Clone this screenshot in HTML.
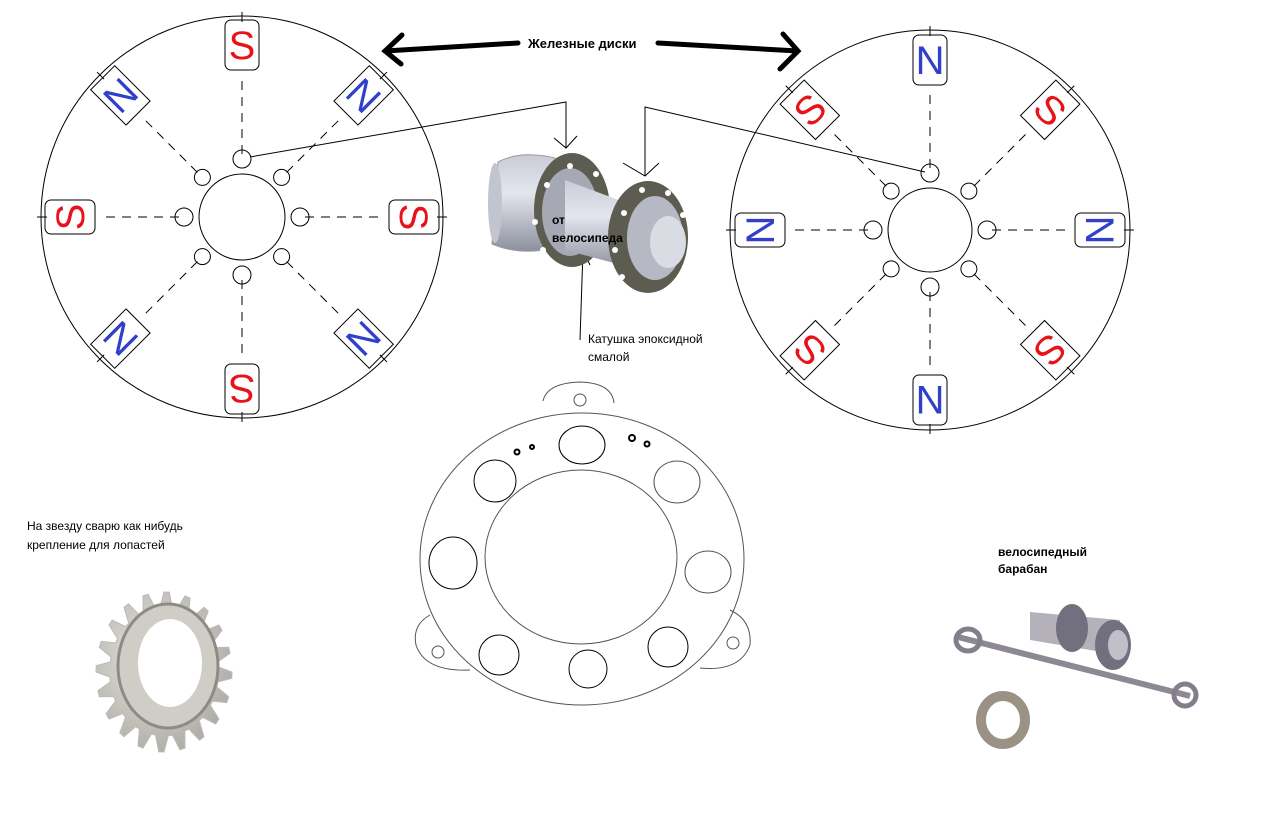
<!DOCTYPE html>
<html><head><meta charset="utf-8">
<style>
html,body{margin:0;padding:0;background:#fff;}
svg{display:block;}
text{font-family:"Liberation Sans","DejaVu Sans",sans-serif;}
</style></head>
<body>
<svg id="s" width="1274" height="817" viewBox="0 0 1274 817" xmlns="http://www.w3.org/2000/svg">
<defs>
<linearGradient id="cyl" x1="0" y1="0" x2="0" y2="1">
<stop offset="0" stop-color="#c9ccd6"/><stop offset="0.4" stop-color="#e4e6ee"/><stop offset="1" stop-color="#8c909c"/>
</linearGradient>
<radialGradient id="gear" cx="0.4" cy="0.4" r="0.7">
<stop offset="0" stop-color="#e6e4de"/><stop offset="1" stop-color="#a9a7a0"/>
</radialGradient>
</defs>
<g id="L" fill="none" stroke="#000" stroke-width="1"></g>
<g id="R" fill="none" stroke="#000" stroke-width="1"></g>

<g stroke="#000" stroke-width="5" fill="none" stroke-linecap="round">
<path d="M518 43 L385 51 M402 35 L385 51 L401 64"/>
<path d="M658 43 L798 51 M783 34 L798 51 L780 69"/>
</g>
<text x="528" y="48" font-size="13" font-weight="bold">Железные диски</text>

<g stroke="#000" stroke-width="1" fill="none">
<path d="M250 157 L566 102 L566 148 M554 138 L566 148 L577 136"/>
<path d="M925 172 L645 107 L645 176 M623 163 L645 176 L659 163"/>
<path d="M580 340 L583 250 M577 265 L583 250 L590 265"/>
</g>

<g>
<path d="M498 162 Q520 150 555 158 L555 248 Q520 256 492 244 Z" fill="url(#cyl)" stroke="#9a9ca6"/>
<ellipse cx="495" cy="203" rx="7" ry="40" fill="#c2c5cf"/>
<ellipse cx="572" cy="210" rx="38" ry="57" fill="#5c5c50"/>
<ellipse cx="570" cy="212" rx="28" ry="44" fill="#a6a9b4"/>
<path d="M565 180 L640 208 L640 270 L565 250 Z" fill="url(#cyl)"/>
<ellipse cx="648" cy="237" rx="40" ry="56" fill="#5c5c50"/>
<ellipse cx="655" cy="238" rx="28" ry="42" fill="#b6b9c4"/>
<ellipse cx="668" cy="242" rx="18" ry="26" fill="#dadce4"/>
<g fill="#fff">
<circle cx="570" cy="166" r="3"/><circle cx="596" cy="174" r="3"/><circle cx="547" cy="185" r="3"/><circle cx="535" cy="222" r="3"/><circle cx="543" cy="250" r="3"/>
<circle cx="642" cy="190" r="3"/><circle cx="668" cy="193" r="3"/><circle cx="624" cy="213" r="3"/><circle cx="615" cy="250" r="3"/><circle cx="622" cy="277" r="3"/><circle cx="683" cy="215" r="3"/>
</g>
<text x="552" y="224" font-size="12" font-weight="bold">от</text>
<text x="552" y="242" font-size="12" font-weight="bold">велосипеда</text>
</g>
<text x="588" y="343" font-size="12">Катушка эпоксидной</text>
<text x="588" y="361" font-size="12">смалой</text>

<g fill="none" stroke="#555" stroke-width="1">
<path d="M543 401 Q547 383 580 382 Q612 383 614 403"/>
<circle cx="580" cy="400" r="6"/>
<path d="M430 615 Q412 625 416 645 Q425 672 470 670"/>
<circle cx="438" cy="652" r="6"/>
<path d="M730 610 Q752 620 750 645 Q740 672 700 668"/>
<circle cx="733" cy="643" r="6"/>
<ellipse cx="582" cy="559" rx="162" ry="146"/>
<ellipse cx="581" cy="557" rx="96" ry="87"/>
<ellipse cx="677" cy="482" rx="23" ry="21"/>
<ellipse cx="708" cy="572" rx="23" ry="21"/>
</g>
<g fill="none" stroke="#000" stroke-width="1">
<ellipse cx="582" cy="445" rx="23" ry="19"/>
<circle cx="495" cy="481" r="21"/>
<ellipse cx="453" cy="563" rx="24" ry="26"/>
<circle cx="499" cy="655" r="20"/>
<circle cx="588" cy="669" r="19"/>
<circle cx="668" cy="647" r="20"/>
</g>
<g fill="none" stroke="#000" stroke-width="2">
<circle cx="517" cy="452" r="2.5"/><circle cx="532" cy="447" r="2"/><circle cx="632" cy="438" r="3"/><circle cx="647" cy="444" r="2.5"/>
</g>

<g id="G"></g>
<text x="27" y="530" font-size="12">На звезду сварю как нибудь</text>
<text x="27" y="549" font-size="12">крепление для лопастей</text>

<text x="998" y="556" font-size="12" font-weight="bold">велосипедный</text>
<text x="998" y="573" font-size="12" font-weight="bold">барабан</text>
<g opacity="0.85">
<path d="M958 637 L1190 696" stroke="#7a7480" stroke-width="6"/>
<ellipse cx="968" cy="640" rx="12" ry="11" fill="none" stroke="#6e6878" stroke-width="5"/>
<ellipse cx="1185" cy="695" rx="11" ry="11" fill="none" stroke="#6e6878" stroke-width="5"/>
<path d="M1030 612 L1120 620 L1120 655 L1030 640 Z" fill="#a8a4b0"/>
<ellipse cx="1072" cy="628" rx="16" ry="24" fill="#5a5868"/>
<ellipse cx="1113" cy="645" rx="18" ry="25" fill="#5a5868"/>
<ellipse cx="1118" cy="645" rx="10" ry="15" fill="#b8b4c0"/>
<ellipse cx="1003" cy="720" rx="22" ry="24" fill="none" stroke="#8a8070" stroke-width="10"/>
</g>
</svg>
<script>
var NS="http://www.w3.org/2000/svg";
function el(p,t,a){var e=document.createElementNS(NS,t);for(var k in a)e.setAttribute(k,a[k]);p.appendChild(e);return e;}
function disk(id,cx,cy,R,ri,rm,firstS){
 var g=document.getElementById(id);
 el(g,"circle",{cx:cx,cy:cy,r:R});
 el(g,"circle",{cx:cx,cy:cy,r:ri});
 for(var i=0;i<8;i++){
  var a=i*Math.PI/4, s=Math.sin(a), c=-Math.cos(a);
  el(g,"line",{x1:cx+s*(ri+20),y1:cy+c*(ri+20),x2:cx+s*(rm-30),y2:cy+c*(rm-30),"stroke-dasharray":"9,7"});
  el(g,"line",{x1:cx+s*(R-6),y1:cy+c*(R-6),x2:cx+s*(R+4),y2:cy+c*(R+4)});
  if(i%2==0) el(g,"circle",{cx:cx+s*(ri+15),cy:cy+c*(ri+15),r:9});
  else el(g,"circle",{cx:cx+s*(ri+13),cy:cy+c*(ri+13),r:8});
  var isS = (i%2==0)==firstS;
  var gg=el(g,"g",{transform:"translate("+(cx+s*rm)+","+(cy+c*rm)+") rotate("+(i*45)+")"});
  el(gg,"rect",{x:-17,y:-25,width:34,height:50,rx:(i%2==0?6:0)});
  var t=el(gg,"text",{x:0,y:14,"text-anchor":"middle","font-size":"40",fill:isS?"#e8121a":"#3040c8",stroke:"none","font-family":"Liberation Sans, sans-serif"});
  t.textContent=isS?"S":"N";
 }
}
disk("L",242,217,201,43,172,true);
disk("R",930,230,200,42,170,false);
var G=document.getElementById("G"),pts=[],cx=164,cy=672,n=20;
for(var i=0;i<n*4;i++){var a=i/(n*4)*2*Math.PI,k=i%4,f=(k==0||k==1)?1:0.8;pts.push((cx+68*f*Math.cos(a)).toFixed(1)+","+(cy+80*f*Math.sin(a)).toFixed(1));}
el(G,"polygon",{points:pts.join(" "),fill:"url(#gear)",stroke:"#bbb"});
el(G,"ellipse",{cx:168,cy:666,rx:50,ry:62,fill:"#cfcdc6",stroke:"#8d8b84","stroke-width":3});
el(G,"ellipse",{cx:170,cy:663,rx:32,ry:44,fill:"#fff"});
</script>
</body></html>
